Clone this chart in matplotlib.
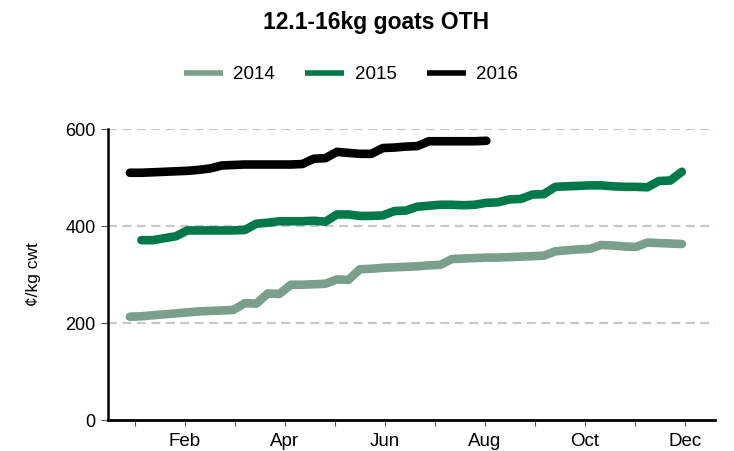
import numpy as np
import matplotlib
matplotlib.use("Agg")
import matplotlib.pyplot as plt

plt.rcParams["font.family"] = ["Liberation Sans", "DejaVu Sans"]

# weekly prices, c/kg cwt
vals_2014 = [213, 214, 216, 218, 220, 222, 224, 225, 226, 227,
             241, 240, 261, 260, 279, 279, 280, 281, 290, 289,
             311, 312, 314, 315, 316, 317, 319, 320, 332, 333,
             334, 335, 335, 336, 337, 338, 339, 348, 350, 352,
             353, 361, 360, 358, 357, 366, 365, 364, 363]
vals_2015 = [371, 371, 375, 379, 391, 391, 391, 391, 391, 392,
             405, 407, 410, 410, 410, 411, 409, 424, 424, 421,
             421, 422, 431, 432, 440, 442, 444, 444, 443, 444,
             448, 449, 455, 456, 465, 466, 481, 482, 483, 484,
             484, 482, 481, 481, 480, 493, 494, 512]
vals_2016 = [510, 510, 511, 512, 513, 514, 516, 519, 525, 526,
             527, 527, 527, 527, 527, 528, 539, 540, 553, 551,
             549, 549, 561, 562, 564, 565, 575, 575, 575, 575,
             575, 576]
start_week = {"2014": 0, "2015": 1, "2016": 0}

months = list(range(1, 13))
month_labels = ["Jan", "Feb", "Mar", "Apr", "May", "Jun",
                "Jul", "Aug", "Sep", "Oct", "Nov", "Dec"]

colors = {"2014": "#7AA08C", "2015": "#00794A", "2016": "#000000"}

FIRST_X = 0.9          # position of week 0 in month units
WEEK = 7 / 30.44

fig = plt.figure(figsize=(7.34, 4.51), dpi=100)
ax = fig.add_axes([0.147, 0.0687, 0.827, 0.645])

for year, vals in [("2014", vals_2014), ("2015", vals_2015), ("2016", vals_2016)]:
    idx = np.arange(len(vals)) + start_week[year]
    x = FIRST_X + idx * WEEK
    ax.plot(x, vals, color=colors[year], lw=6.2, solid_capstyle="round",
            solid_joinstyle="round", label=year)

ax.set_xlim(0.46, 12.6)
ax.set_ylim(0, 600)

ax.set_yticks([0, 200, 400, 600])
for yv in [200, 400, 600]:
    ax.axhline(yv, color="#c8c8c8", lw=1.6, ls=(0, (4, 2.5)), zorder=0)

ax.set_xticks(months[1::2])
ax.set_xticklabels(month_labels[1::2])
ax.set_xticks(months[0::2], minor=True)

ax.tick_params(axis="x", labelsize=13.5)
ax.tick_params(axis="y", labelsize=13)
ax.tick_params(axis="both", which="both", direction="out", color="#555555")
ax.tick_params(axis="x", which="both", length=4, width=0.8, pad=5)
ax.tick_params(axis="y", length=5, width=0.8, pad=4)

for s in ["top", "right"]:
    ax.spines[s].set_visible(False)
ax.spines["left"].set_linewidth(1.8)
ax.spines["bottom"].set_linewidth(2)

ax.set_ylabel("¢/kg cwt", fontsize=12.5, labelpad=17)

fig.text(0.512, 0.951, "12.1-16kg goats OTH", ha="center", va="center",
         fontsize=16.5, fontweight="bold")

leg = fig.legend(loc="center", bbox_to_anchor=(0.478, 0.834), ncol=3, frameon=False,
                 fontsize=13.5, handlelength=2.1, handletextpad=0.55, columnspacing=1.6)
for ln in leg.get_lines():
    ln.set_linewidth(4)
    ln.set_solid_capstyle("butt")

fig.savefig("out.png", dpi=100)
